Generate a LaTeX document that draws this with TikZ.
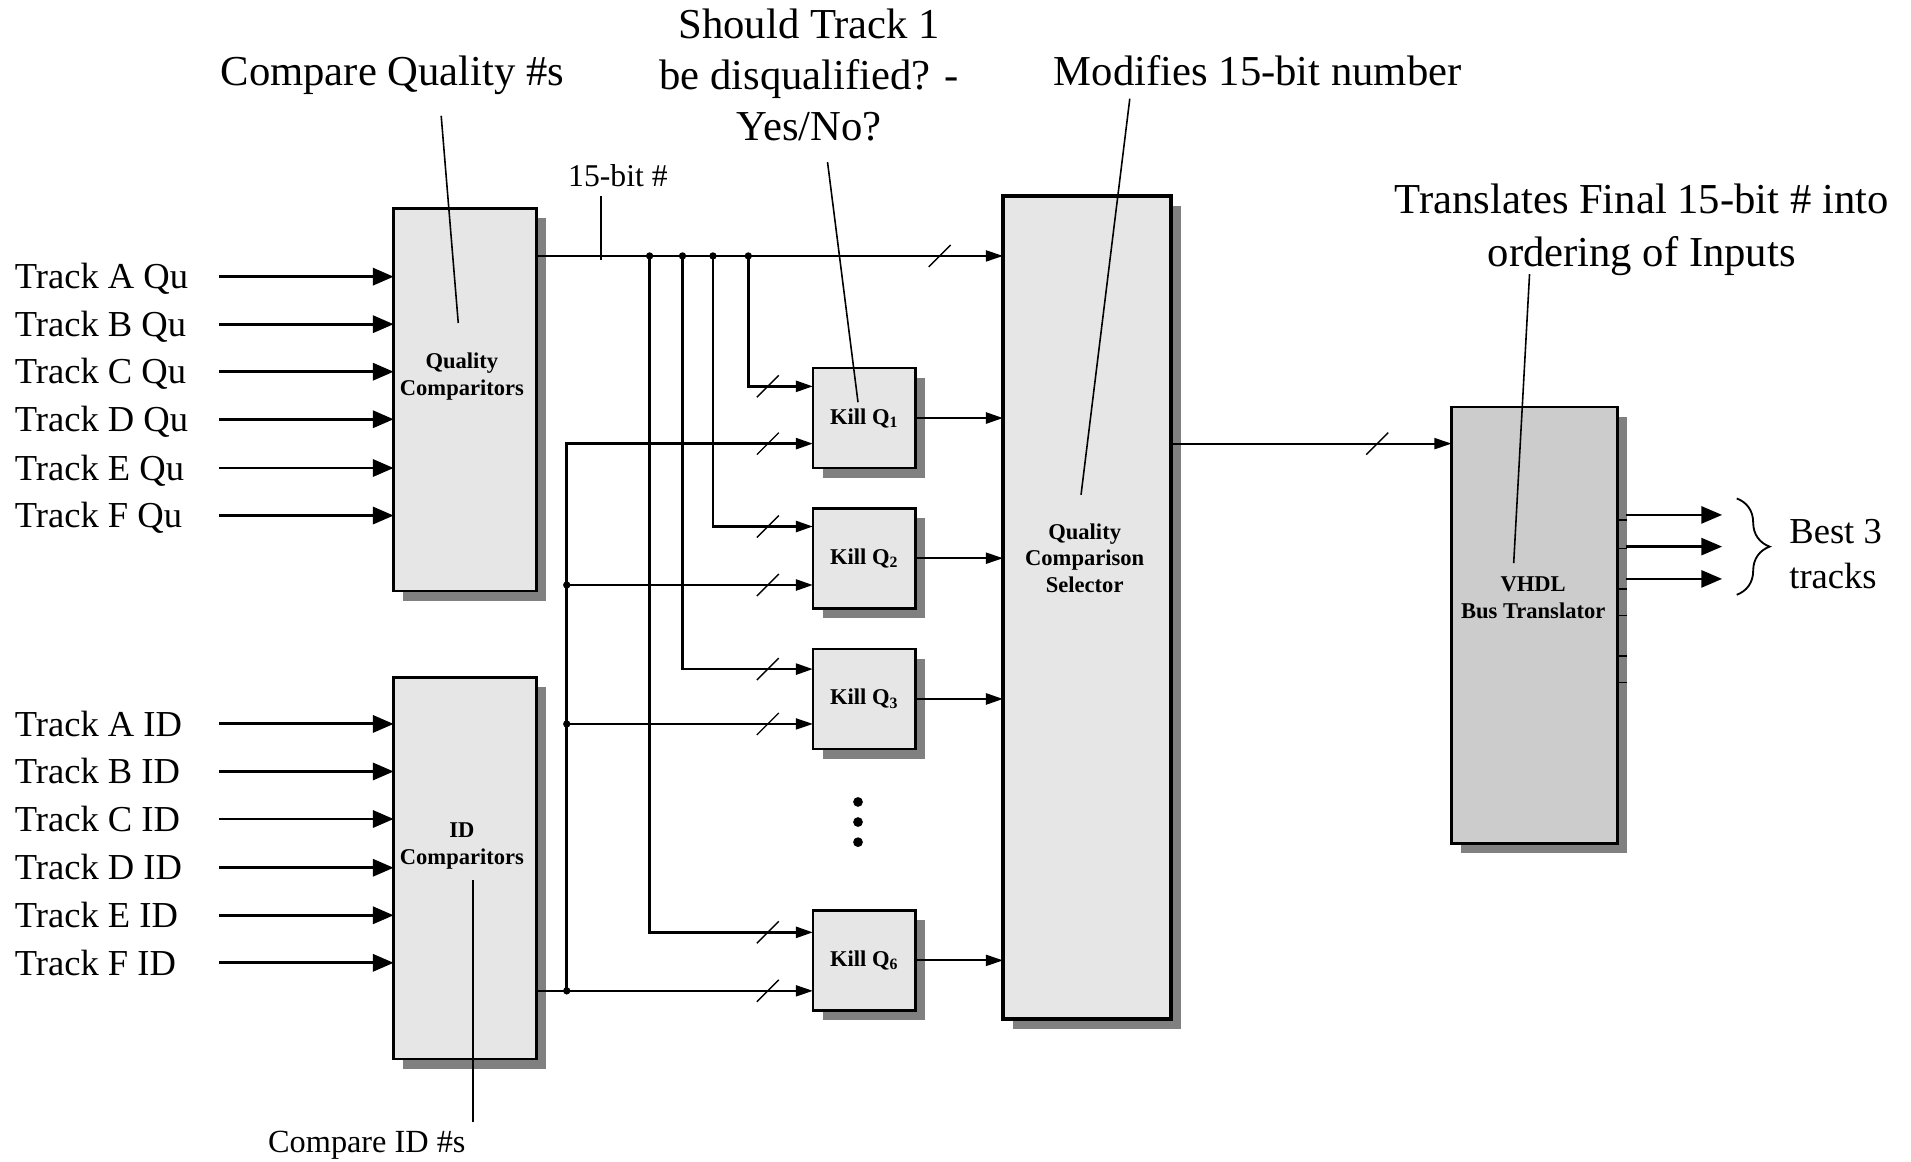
\documentclass[tikz,border=0pt]{standalone}
\usepackage{fontspec}
\setmainfont{Liberation Serif}
\usetikzlibrary{arrows.meta,shadows,calc,decorations.pathreplacing}
\definecolor{boxfill}{HTML}{E6E6E6}
\definecolor{vhdlfill}{HTML}{CCCCCC}
\definecolor{shgray}{HTML}{808080}
\newcommand{\myfs}[2]{\fontsize{#1}{#2}\selectfont}
\tikzset{
  shd/.style={drop shadow={shadow xshift=8pt,shadow yshift=-8pt,fill=shgray,opacity=1}},
  blk/.style={draw=black,line width=2.2pt,fill=boxfill,inner sep=0pt,outer sep=0pt,shd},
  killbox/.style={blk,minimum width=84pt,minimum height=82pt,font=\myfs{18.5}{22}\bfseries},
  selbox/.style={blk,line width=3.2pt},
  vhdlbox/.style={blk,fill=vhdlfill,line width=2pt},
  blklbl/.style={font=\myfs{18.5}{22}\bfseries,align=center,inner sep=0pt},
  trklbl/.style={font=\myfs{30}{36},inner sep=0pt,anchor=base west},
  note/.style={font=\myfs{35}{42},align=center,inner sep=0pt},
  leader/.style={line width=1.3pt},
  trk/.style={line width=2.4pt,-{Triangle[length=17pt,width=14pt]}},
  sig/.style={line width=2.2pt,-{Triangle[length=14pt,width=9pt]}},
  sigthin/.style={line width=1.6pt,-{Triangle[length=14pt,width=9pt]}},
  slash/.style={line width=1.1pt},
  jdot/.style={circle,fill=black,inner sep=0pt,minimum size=6pt},
  edot/.style={circle,fill=black,inner sep=0pt,minimum size=8pt},
}
\begin{document}
\begin{tikzpicture}[x=1pt,y=-1pt]
\useasboundingbox (0,0) rectangle (1568,953);

% ---------- blocks ----------
\node[blk,minimum width=117pt,minimum height=314pt] (qc) at (381.5,328) {};
\node[blklbl] (qcl) at (379,309) {Quality\\Comparitors};
\node[blk,minimum width=117pt,minimum height=313pt] (idc) at (381.5,712.5) {};
\node[blklbl] (idl) at (379,694) {ID\\Comparitors};

\node[killbox] (k1) at (709,343) {Kill Q\textsubscript{1}};
\node[killbox] (k2) at (709,458) {Kill Q\textsubscript{2}};
\node[killbox] (k3) at (709,573.5) {Kill Q\textsubscript{3}};
\node[killbox] (k6) at (709,788) {Kill Q\textsubscript{6}};

\node[selbox,minimum width=138pt,minimum height=675pt] (sel) at (892,498.5) {};
\node[blklbl] (sell) at (890,458) {Quality\\Comparison\\Selector};

\node[vhdlbox,minimum width=136pt,minimum height=358pt] (vh) at (1259,513) {};
\node[blklbl] (vhl) at (1258,490.5) {VHDL\\Bus Translator};

% ---------- track inputs ----------
\foreach \n/\y in {A/227,B/266,C/305,D/344,E/384,F/423}{
  \node[trklbl] (tq\n) at (12,\y+10) {Track \n\ Qu};
  \coordinate (sq\n) at (180,\y);
  \draw[trk] (sq\n) -- (sq\n -| qc.west);
}
\foreach \n/\y in {A/594,B/633,C/672,D/712,E/751,F/790}{
  \node[trklbl] (ti\n) at (12,\y+10) {Track \n\ ID};
  \coordinate (si\n) at (180,\y);
  \draw[trk] (si\n) -- (si\n -| idc.west);
}

% ---------- 15-bit bus ----------
\coordinate (j1) at (533,210);
\coordinate (j2) at (560,210);
\coordinate (j3) at (585,210);
\coordinate (j4) at (614,210);
\draw[sigthin] (j1 -| qc.east) -- (j1 -| sel.west);
\coordinate (bt1) at (493,161);
\coordinate (bt2) at (493,213);
\draw[line width=1.3pt] (bt1) -- (bt2);
\node[font=\myfs{26}{30},anchor=base,inner sep=0pt] (bit) at (507,153) {15-bit \#};
\draw[slash] ($(j1 -| sel.west)+(-61,9)$) -- ++(18,-18);
\foreach \j in {1,2,3,4} \node[jdot] (dj\j) at (j\j) {};

% kill box input points
\coordinate (k1a) at ($(k1.north west)+(0,15)$);
\coordinate (k1b) at ($(k1.south west)+(0,-20)$);
\coordinate (k2a) at ($(k2.north west)+(0,15)$);
\coordinate (k2b) at ($(k2.south west)+(0,-19)$);
\coordinate (k3a) at ($(k3.north west)+(0,16.5)$);
\coordinate (k3b) at ($(k3.south west)+(0,-20.5)$);
\coordinate (k6a) at ($(k6.north west)+(0,18)$);
\coordinate (k6b) at ($(k6.south west)+(0,-16)$);

% quality drops
\draw[sig] (j4) |- (k1a);
\draw[sig] (j3) |- (k2a);
\draw[sig] (j2) |- (k3a);
\draw[sig] (j1) |- (k6a);

% ID distribution
\coordinate (io) at ($(idc.south east)+(0,-56)$);
\coordinate (v0) at ($(io)+(25,0)$);
\draw[sigthin] (io) -- (io -| k6.west);
\draw[sig] (v0) |- (k1b);
\draw[sig] (v0 |- k2b) -- (k2b);
\draw[sigthin] (v0 |- k3b) -- (k3b);
\node[jdot] (dv1) at (v0) {};
\node[jdot] (dv2) at (v0 |- k2b) {};
\node[jdot] (dv3) at (v0 |- k3b) {};

% bus slashes on kill inputs
\foreach \c in {k1a,k1b,k2a,k2b,k3a,k3b,k6a,k6b}
  \draw[slash] ($(\c)+(-46,9)$) -- ++(18,-18);

% kill outputs
\draw[sig] (k1.east) -- (k1.east -| sel.west);
\draw[sigthin] (k2.east) -- (k2.east -| sel.west);
\draw[sig] (k3.east) -- (k3.east -| sel.west);
\draw[sigthin] (k6.east) -- (k6.east -| sel.west);

% ellipsis
\node[edot] (e1) at (704,658) {};
\node[edot] (e2) at (704,674.5) {};
\node[edot] (e3) at (704,691) {};

% selector -> VHDL
\coordinate (so) at ($(sel.north east)+(0,203)$);
\draw[sigthin] (so) -- (so -| vh.west);
\draw[slash] ($(so -| vh.west)+(-70,9)$) -- ++(18,-18);

% VHDL output ticks and arrows
\foreach \y in {427,450,483,505,538,560}
  \draw[line width=1.5pt] ($(vh.north east)+(0,\y-334)$) -- ++(8,0);
\foreach \i/\y in {1/422.5,2/448.5,3/475}{
  \coordinate (os\i) at ($(vh.north east)+(7,\y-334)$);
  \coordinate (oe\i) at ($(os\i)+(79,0)$);
  \draw[line width=2pt,-{Triangle[length=17pt,width=14pt]}] (os\i) -- (oe\i);
}
\coordinate (br1) at (1425,409);
\coordinate (br2) at (1425,488);
\draw[line width=1.5pt,decorate,decoration={brace,amplitude=27pt,aspect=0.5}] (br1) -- (br2);
\node[font=\myfs{30}{37},align=left,anchor=north west,inner sep=0pt] (best) at (1468,426) {Best 3\\tracks};

% ---------- annotations ----------
\node[note,anchor=base] (cq) at (322,70) {Compare Quality \#s};
\node[note,anchor=north] (sh) at (664,7) {Should Track 1\\be disqualified? -\\Yes/No?};
\node[note,anchor=base] (mod) at (1032,70) {Modifies 15-bit number};
\node[font=\myfs{35}{43},align=center,inner sep=0pt,anchor=north] (tr) at (1347,151) {Translates Final 15-bit \# into\\ordering of Inputs};
\node[font=\myfs{26.5}{30},anchor=base,inner sep=0pt] (cid) at (301,946) {Compare ID \#s};

\coordinate (L1a) at (362,95);   \coordinate (L1b) at (376,265);
\coordinate (L2a) at (679,133);  \coordinate (L2b) at (704,330);
\coordinate (L3a) at (927,81);   \coordinate (L3b) at (887,406);
\coordinate (L4a) at (1255,225); \coordinate (L4b) at (1242,462);
\coordinate (L5a) at (388,921);  \coordinate (L5b) at (388,722);
\draw[leader] (L1a) -- (L1b);
\draw[leader] (L2a) -- (L2b);
\draw[leader] (L3a) -- (L3b);
\draw[leader] (L4a) -- (L4b);
\draw[leader] (L5a) -- (L5b);
\end{tikzpicture}
\end{document}
